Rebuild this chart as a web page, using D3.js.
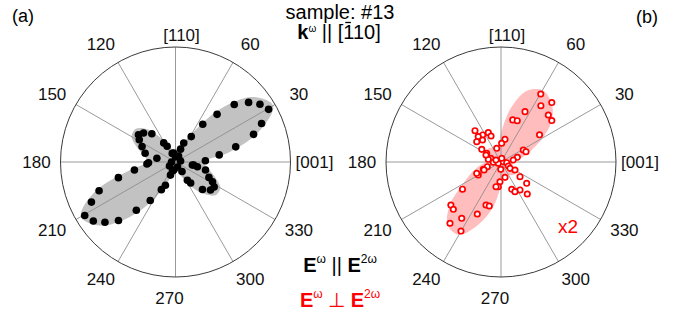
<!DOCTYPE html>
<html>
<head>
<meta charset="utf-8">
<script src="https://cdn.jsdelivr.net/npm/d3@7"></script>
<style>
  body { margin: 0; background: #fff; }
  svg text { font-family: "Liberation Sans", Arial, sans-serif; }
</style>
</head>
<body>
<svg id="chart" width="688" height="320"></svg>
<script>
const tickAngles = [0, 30, 60, 90, 120, 150, 180, 210, 240, 270, 300, 330];
const tickLabels = ["[001]", "30", "60", "[110]", "120", "150", "180", "210", "240", "270", "300", "330"];

// (a) E^w || E^2w : polarization angle (deg) and normalized SHG signal
const parAngle = [44.4, 39.2, 34.4, 29.5, 24.1, 19.5, 14.1, 9.2, 2.5, 350.7,
  48.9, 54.2, 58.2, 66.6, 68.5, 101, 143.7, 137.8, 130, 148.4,
  155.3, 163.8, 181.5, 168.6, 121.6, 118, 110.8, 90, 180, 11,
  292, 251.6, 213.7, 63, 349.8, 347.8, 345.1, 335.3, 331.8, 327.2,
  321.3, 314.4, 305.9, 303, 304.6, 210.5, 215.7, 220.5, 225.7, 230.9,
  236.7, 242.9, 246.5, 205.5, 200.6, 195.3, 191.1, 184, 249, 258];
const parValue = [0.715, 0.82, 0.89, 0.93, 0.82, 0.72, 0.54, 0.385, 0.26, 0.16,
  0.55, 0.405, 0.26, 0.18, 0.12, 0.08, 0.40, 0.375, 0.32, 0.37,
  0.32, 0.275, 0.235, 0.165, 0.195, 0.155, 0.08, 0.045, 0.035, 0.045,
  0.047, 0.083, 0.063, 0.059, 0.149, 0.195, 0.27, 0.32, 0.365, 0.40,
  0.39, 0.335, 0.225, 0.19, 0.10, 0.916, 0.88, 0.807, 0.71, 0.54,
  0.40, 0.27, 0.22, 0.81, 0.71, 0.515, 0.364, 0.249, 0.122, 0.072];

// (b) E^w perpendicular E^2w, shown x2
const perpAngle = [59.7, 49.5, 54.7, 44.8, 39.2, 64.5, 74.4, 68.5, 35.2, 80,
  88, 107.4, 28.3, 22.4, 16.1, 9.2, 129.7, 124.1, 113.4, 111,
  131.9, 140.1, 146.7, 148.7, 160, 182, 205, 7, 353, 331,
  268, 158, 79, 168, 155, 325, 330.3, 322.3, 320.3, 304.2,
  291.4, 295.2, 309.4, 284.7, 202.4, 209.8, 204.9, 267, 263.8, 258.6,
  215.2, 220.7, 224.8, 250.8, 255.1, 245.5, 235.1, 230.2, 239.9, 199,
  130, 205];
const perpValue = [0.685, 0.68, 0.60, 0.58, 0.57, 0.485, 0.38, 0.386, 0.41, 0.20,
  0.163, 0.125, 0.22, 0.235, 0.148, 0.108, 0.354, 0.284, 0.278, 0.242,
  0.296, 0.275, 0.20, 0.146, 0.095, 0.067, 0.026, 0.02, 0.05, 0.072,
  0.064, 0.047, 0.033, 0.113, 0.144, 0.096, 0.14, 0.209, 0.29, 0.294,
  0.255, 0.285, 0.36, 0.138, 0.166, 0.228, 0.233, 0.172, 0.216, 0.219,
  0.41, 0.575, 0.584, 0.396, 0.396, 0.497, 0.597, 0.693, 0.694, 0.126,
  0.25, 0.163];

// fitted envelopes, sampled every 10 deg
const fitAngle = [0, 10, 20, 30, 40, 50, 60, 70, 80, 90, 100, 110,
  120, 130, 140, 150, 160, 170, 180, 190, 200, 210, 220, 230,
  240, 250, 260, 270, 280, 290, 300, 310, 320, 330, 340, 350];
const parFit = [0.25, 0.47, 0.77, 0.98, 0.88, 0.6, 0.29, 0.15, 0.09, 0.07, 0.09, 0.14,
  0.23, 0.37, 0.45, 0.44, 0.35, 0.27, 0.25, 0.4, 0.74, 0.95, 0.86, 0.63,
  0.37, 0.17, 0.09, 0.07, 0.08, 0.12, 0.22, 0.35, 0.45, 0.45, 0.36, 0.28];
const perpFit = [0.12, 0.17, 0.27, 0.42, 0.58, 0.68, 0.72, 0.66, 0.47, 0.25, 0.14, 0.13,
  0.14, 0.16, 0.16, 0.14, 0.11, 0.11, 0.13, 0.19, 0.27, 0.38, 0.58, 0.72,
  0.73, 0.58, 0.4, 0.2, 0.11, 0.11, 0.13, 0.15, 0.16, 0.14, 0.11, 0.1];

const svg = d3.select("#chart");
const R = 115;

const r = d3.scaleLinear().domain([0, 1]).range([0, R]);
// math angle (ccw from east) -> d3 radial angle (cw from north)
const a = d3.scaleLinear().domain([0, 360]).range([Math.PI / 2, Math.PI / 2 - 2 * Math.PI]);

const labelPos = (d) => {
  const t = (d * Math.PI) / 180;
  const c = Math.cos(t), s = Math.sin(t);
  const x = 139 * c + 6 * Math.sign(c) * Math.abs(s);
  const y = -136 * s + (d === 90 ? 9 : 0);
  return [x, y];
};

const drawPolar = (cx, cy, angles, values, fit, opts) => {
  const g = svg.append("g").attr("transform", `translate(${cx},${cy})`);

  const fitPts = fitAngle.map((d, i) => [d, fit[i]]);
  g.append("path")
    .attr("d", d3.lineRadial()
      .angle((d) => a(d[0]))
      .radius((d) => r(d[1]))
      .curve(d3.curveCatmullRomClosed.alpha(0.5))(fitPts))
    .attr("fill", opts.fill);

  g.selectAll(".spoke")
    .data(tickAngles)
    .enter()
    .append("line")
    .attr("x1", 0).attr("y1", 0)
    .attr("x2", (d) => d3.pointRadial(a(d), R)[0])
    .attr("y2", (d) => d3.pointRadial(a(d), R)[1])
    .attr("stroke", "#8f8f8f")
    .attr("stroke-width", 0.9);

  g.append("circle")
    .attr("r", R)
    .attr("fill", "none")
    .attr("stroke", "#3a3a3a")
    .attr("stroke-width", 1);

  g.selectAll(".lbl")
    .data(tickAngles)
    .enter()
    .append("text")
    .attr("x", (d) => labelPos(d)[0])
    .attr("y", (d) => labelPos(d)[1])
    .attr("text-anchor", "middle")
    .attr("dominant-baseline", "central")
    .attr("font-size", 17)
    .attr("fill", "#111")
    .text((d, i) => tickLabels[i]);

  const pts = angles.map((d, i) => d3.pointRadial(a(d), r(values[i])));
  g.selectAll(".pt")
    .data(pts)
    .enter()
    .append("circle")
    .attr("cx", (d) => d[0])
    .attr("cy", (d) => d[1])
    .attr("r", opts.dotR)
    .attr("fill", opts.dotFill)
    .attr("stroke", opts.dotStroke)
    .attr("stroke-width", opts.dotStrokeW);
  return g;
};

drawPolar(175.5, 162, parAngle, parValue, parFit, {
  fill: "#c2c2c2", dotR: 3.8, dotFill: "#000", dotStroke: "none", dotStrokeW: 0
});
const gb = drawPolar(501, 162, perpAngle, perpValue, perpFit, {
  fill: "#ffbdbd", dotR: 2.7, dotFill: "#fff", dotStroke: "#ff0000", dotStrokeW: 1.7
});

gb.append("text")
  .attr("x", 57).attr("y", 71)
  .attr("font-size", 19)
  .attr("fill", "#ff0000")
  .text("x2");

// panel tags
svg.append("text").attr("x", 12).attr("y", 22).attr("font-size", 18).text("(a)");
svg.append("text").attr("x", 636).attr("y", 23).attr("font-size", 18).text("(b)");

// header
svg.append("text")
  .attr("x", 340).attr("y", 19)
  .attr("text-anchor", "middle")
  .attr("font-size", 20)
  .text("sample: #13");

const kLine = svg.append("text")
  .attr("x", 339).attr("y", 39)
  .attr("text-anchor", "middle")
  .attr("font-size", 20);
kLine.append("tspan").attr("font-weight", "bold").text("k");
kLine.append("tspan").attr("font-size", 10).attr("dy", -7).text("ω");
kLine.append("tspan").attr("dy", 7).text(" || [");
const barOne = kLine.append("tspan").text("1");
kLine.append("tspan").text("10]");

// overbar on the first index
const ext = barOne.node().getExtentOfChar(0);
svg.append("line")
  .attr("x1", ext.x + 2).attr("x2", ext.x + ext.width - 2)
  .attr("y1", ext.y + 1.5).attr("y2", ext.y + 1.5)
  .attr("stroke", "#000")
  .attr("stroke-width", 1.3);

// legend
const legend = (y, color, sym) => {
  const t = svg.append("text")
    .attr("x", 340).attr("y", y)
    .attr("text-anchor", "middle")
    .attr("font-size", 20)
    .attr("fill", color);
  t.append("tspan").attr("font-weight", "bold").text("E");
  t.append("tspan").attr("font-size", 12).attr("dy", -9).text("ω");
  t.append("tspan").attr("dy", 9).text(` ${sym} `);
  t.append("tspan").attr("font-weight", "bold").text("E");
  t.append("tspan").attr("font-size", 12).attr("dy", -9).text("2ω");
};
legend(272, "#000", "||");
legend(307, "#ff0000", "\u22a5");
</script>
</body>
</html>
